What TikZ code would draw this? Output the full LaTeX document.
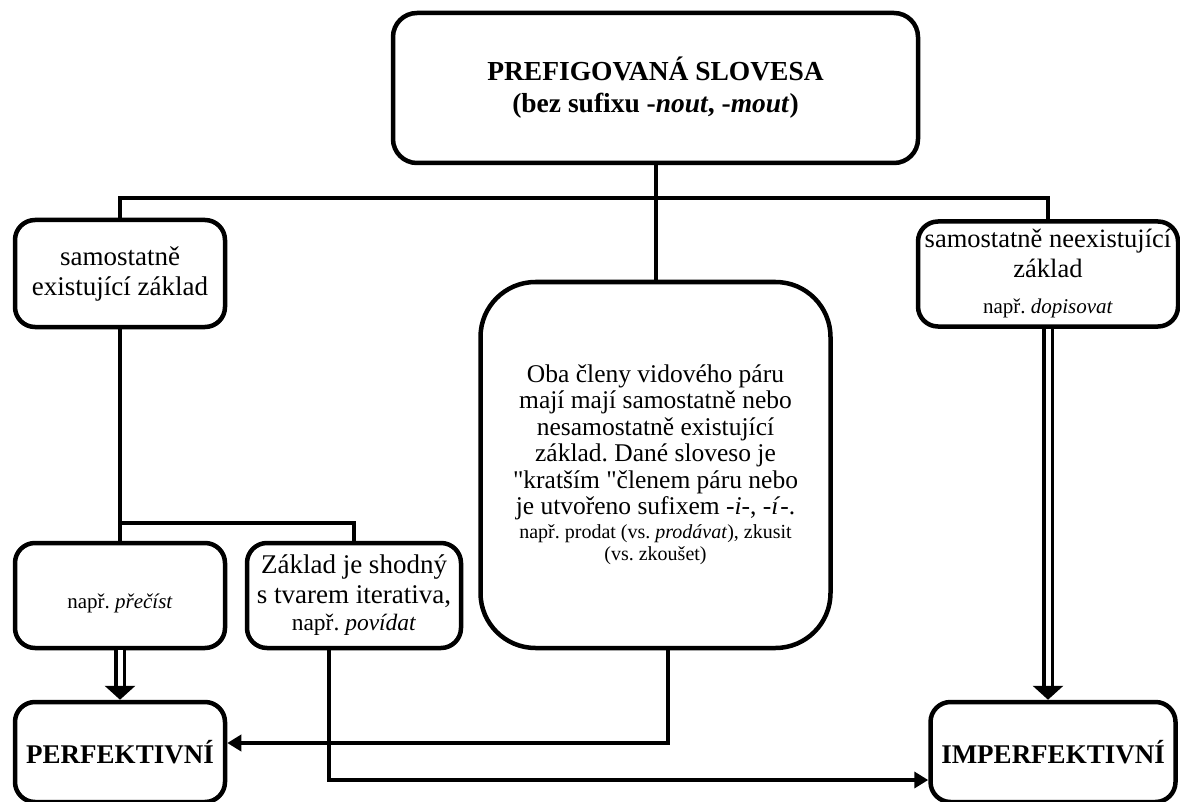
\documentclass[tikz,border=0pt]{standalone}
\usepackage{fontspec}
\setmainfont{Liberation Serif}[Ligatures=TeXOff]
\usetikzlibrary{arrows.meta}
\begin{document}
\frenchspacing
\begin{tikzpicture}[x=1pt,y=-1pt,
  box/.style={draw, line width=4.5pt, rounded corners=20pt, align=center,
    inner sep=0pt, fill=white},
  conn/.style={line width=4pt},
  arr/.style={conn, -{Triangle[length=14pt,width=16pt]}},
  dbl/.style={line width=3.5pt, double distance=5pt,
    -{Triangle[length=14pt,width=30pt]}},
  txt/.style={font=\fontsize{27}{30}\selectfont},
  small/.style={font=\fontsize{21}{24}\selectfont},
  heavy/.style={font=\bfseries\fontsize{27}{30}\selectfont},
]
\useasboundingbox (0,0) rectangle (1180,802);

% boxes
\node[box, font=\bfseries\fontsize{27.5}{32}\selectfont,
      minimum width=525, minimum height=150, rounded corners=24pt]
  (top) at (655.5,88) {PREFIGOVANÁ SLOVESA\\(bez sufixu -\textit{nout}, -\textit{mout})};
\node[box, txt, minimum width=210, minimum height=107]
  (L1) at (120,273.5) {samostatně\\existující základ};
\node[box, font=\fontsize{26.5}{30}\selectfont, minimum width=260, minimum height=105]
  (R1) at (1048,274) {samostatně neexistující\\základ\\[6pt]{\fontsize{21}{24}\selectfont např. \textit{dopisovat}}};
\node[box, font=\fontsize{25.5}{26.5}\selectfont, minimum width=350,
      minimum height=366, rounded corners=55pt]
  (M) at (655.5,465) {Oba členy vidového páru\\mají mají samostatně nebo\\nesamostatně existující\\základ. Dané sloveso je\\"kratším "členem páru nebo\\je utvořeno sufixem -\textit{i}-, -\textit{í}-.\\[-3pt]
  {\fontsize{20}{22}\selectfont např. prodat (vs. \textit{prodávat}), zkusit}\\[-4pt]
  {\fontsize{20}{22}\selectfont (vs. zkoušet)}};
\node[box, small, minimum width=210, minimum height=105,
      text height=26pt, text depth=0pt]
  (P1) at (120,595.5) {např. \textit{přečíst}};
\node[box, txt, minimum width=214, minimum height=105]
  (Z) at (354,595.5) {Základ je shodný\\s tvarem iterativa,\\[-3pt]{\fontsize{23.5}{26}\selectfont např. \textit{povídat}}};
\node[box, heavy, minimum width=210, minimum height=100]
  (PERF) at (120,752) {PERFEKTIVNÍ};
\node[box, heavy, minimum width=245, minimum height=100]
  (IMP) at (1053,752) {IMPERFEKTIVNÍ};

% junction points of the tree
\coordinate (bar) at (655.5,198);
\coordinate (bar2) at (120,523);

% connectors
\draw[conn] (top.south) -- (M.north);
\draw[conn] (L1.north) |- (bar) -| (R1.north);
\draw[conn] (L1.south) -- (P1.north);
\draw[conn] (bar2) -| (Z.north);
\draw[dbl] (P1.south) -- (PERF.north);
\draw[dbl] (R1.south) -- (R1.south |- IMP.north);
\draw[arr] ([xshift=12.5pt]M.south) |- ([yshift=9pt]PERF.east);
\draw[arr] ([xshift=-25pt]Z.south) |- ([yshift=-28pt]IMP.west);
\end{tikzpicture}
\end{document}
